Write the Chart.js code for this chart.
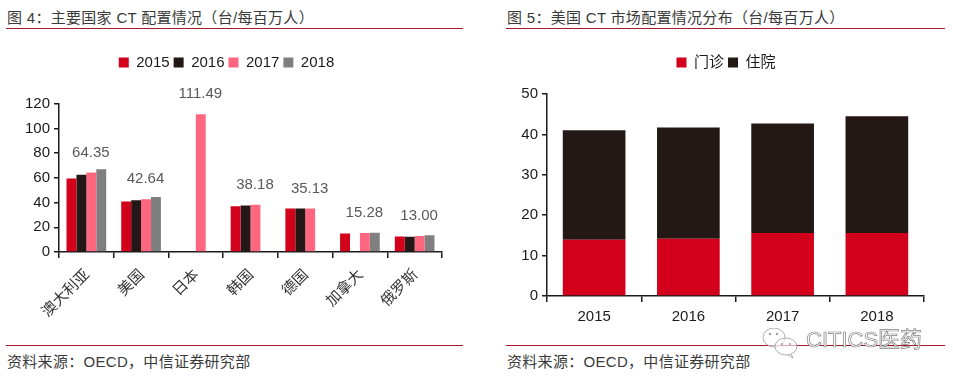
<!DOCTYPE html>
<html lang="zh">
<head>
<meta charset="utf-8">
<script src="https://cdn.jsdelivr.net/npm/chart.js@4"></script>
<style>
html,body{margin:0;padding:0;background:#fff;width:953px;height:382px;overflow:hidden}
body{position:relative;font-family:"Liberation Sans","Noto Sans CJK SC",sans-serif;color:#333}
canvas{position:absolute;top:30px}
.t{position:absolute;font-size:15px;line-height:18px;white-space:pre;color:#3a3a3a;letter-spacing:.3px}
.r{position:absolute;height:1px;background:#a5182c}
.wm{position:absolute;left:806px;top:328px;font-size:22px;line-height:24px;color:#fff;-webkit-text-stroke:.7px #808080;white-space:pre}
svg{position:absolute;left:762px;top:328px}
</style>
</head>
<body>
<div class="t" style="left:7px;top:9px">图 4：主要国家 CT 配置情况（台/每百万人）</div>
<div class="r" style="left:6px;width:457px;top:28px"></div>
<div class="t" style="left:507px;top:9px">图 5：美国 CT 市场配置情况分布（台/每百万人）</div>
<div class="r" style="left:506px;width:439px;top:28px"></div>
<canvas id="a" width="452" height="310" style="left:0"></canvas>
<canvas id="b" width="438" height="310" style="left:507px"></canvas>
<div class="r" style="left:6px;width:457px;top:345px"></div>
<div class="r" style="left:506px;width:439px;top:345px"></div>
<div class="t" style="left:7px;top:353px">资料来源：OECD，中信证券研究部</div>
<div class="t" style="left:507px;top:353px">资料来源：OECD，中信证券研究部</div>
<svg width="40" height="32" viewBox="0 0 40 32"><g fill="#fff" fill-opacity=".6" stroke="#9a9a9a" stroke-width=".8"><ellipse cx="12" cy="9.5" rx="11" ry="9.5"/><ellipse cx="24" cy="18.5" rx="11" ry="8.5"/><path d="M29 26l2 4-5-3"/></g><g fill="#9a9a9a"><circle cx="8" cy="6" r="1.2"/><circle cx="15" cy="6" r="1.2"/><circle cx="20" cy="16" r="1"/><circle cx="28" cy="16" r="1"/></g></svg>
<div class="wm">CITICS医药</div>
<script>
const countries = ["澳大利亚","美国","日本","韩国","德国","加拿大","俄罗斯"];
const s2015 = [59.5,40.8,null,37.0,35.1,14.9,12.5];
const s2016 = [62.5,41.8,null,37.7,35.1,null,12.4];
const s2017 = [64.35,42.64,111.49,38.18,35.13,15.28,13.00];
const s2018 = [67.0,44.5,null,null,null,15.6,13.6];
const years = ["2015","2016","2017","2018"];
const clinic = [13.9,14.2,15.6,15.6];
const inpatient = [27.1,27.5,27.1,28.9];
const RED="#d2001a",BLK="#231815",PINK="#ff6680",GRY="#7f7f7f";
const FONT='"Liberation Sans","Noto Sans CJK SC",sans-serif';
const AXIS="#1a1a1a",TXT="#1a1a1a";

function legendFit(h,dx){return {id:'lh',
  beforeInit(c){const f=c.legend.fit;c.legend.fit=function(){f.call(this);this.height=h;};},
  afterLayout(c){c.legend.left+=dx;c.legend.right+=dx;c.legend.top+=1;c.legend.bottom+=1;}};}
const labelPlugin={id:'vals',afterDatasetsDraw(c){
  const m=c.getDatasetMeta(2),x=c.ctx;x.save();
  x.font='15px '+FONT;x.fillStyle='#595959';x.textAlign='center';x.textBaseline='middle';
  m.data.forEach((e,i)=>x.fillText(s2017[i].toFixed(2),e.x-0.5,e.y-20));x.restore();}};

function opts(stacked,xFit,yFit,xTick,yMax,yStep,padL,padR){return {
  responsive:false,animation:false,devicePixelRatio:1,
  layout:{padding:{top:20,left:padL,right:padR,bottom:0}},
  plugins:{tooltip:{enabled:false},
    legend:{position:'top',labels:{boxWidth:10,boxHeight:10,padding:4,color:TXT,font:{size:15,family:FONT}}}},
  scales:{
    x:{stacked,offset:true,afterFit(s){s.height=xFit;},
       grid:{offset:true,drawOnChartArea:false,drawTicks:true,tickLength:6,color:AXIS,lineWidth:1.5},
       border:{color:AXIS,width:1.5},ticks:Object.assign({autoSkip:false,color:TXT,font:{size:15,family:FONT}},xTick)},
    y:{stacked,min:0,max:yMax,afterFit(s){s.width=yFit;},
       grid:{drawOnChartArea:false,drawTicks:true,tickLength:5,color:AXIS,lineWidth:1.5},
       border:{color:AXIS,width:1.5},ticks:{stepSize:yStep,padding:4,color:TXT,font:{size:15,family:FONT}}}
  }};}

const bar={barPercentage:1,categoryPercentage:0.725,borderWidth:0};
new Chart(document.getElementById('a'),{type:'bar',
  data:{labels:countries,datasets:[
    {label:'2015',data:s2015,backgroundColor:RED,...bar},
    {label:'2016',data:s2016,backgroundColor:BLK,...bar},
    {label:'2017',data:s2017,backgroundColor:PINK,...bar},
    {label:'2018',data:s2018,backgroundColor:GRY,...bar}]},
  options:opts(false,88,59,{minRotation:45,maxRotation:45,padding:8,labelOffset:1,color:'#333'},120,20,0,10),
  plugins:[legendFit(53.7,5.5),labelPlugin]});

const bar2={barPercentage:1,categoryPercentage:0.665,borderWidth:0};
new Chart(document.getElementById('b'),{type:'bar',
  data:{labels:years,datasets:[
    {label:'门诊',data:clinic,backgroundColor:RED,...bar2},
    {label:'住院',data:inpatient,backgroundColor:BLK,...bar2}]},
  options:opts(true,44,40,{padding:6,maxRotation:0},50,10,0,21),
  plugins:[legendFit(44,10.5)]});
</script>
</body>
</html>
